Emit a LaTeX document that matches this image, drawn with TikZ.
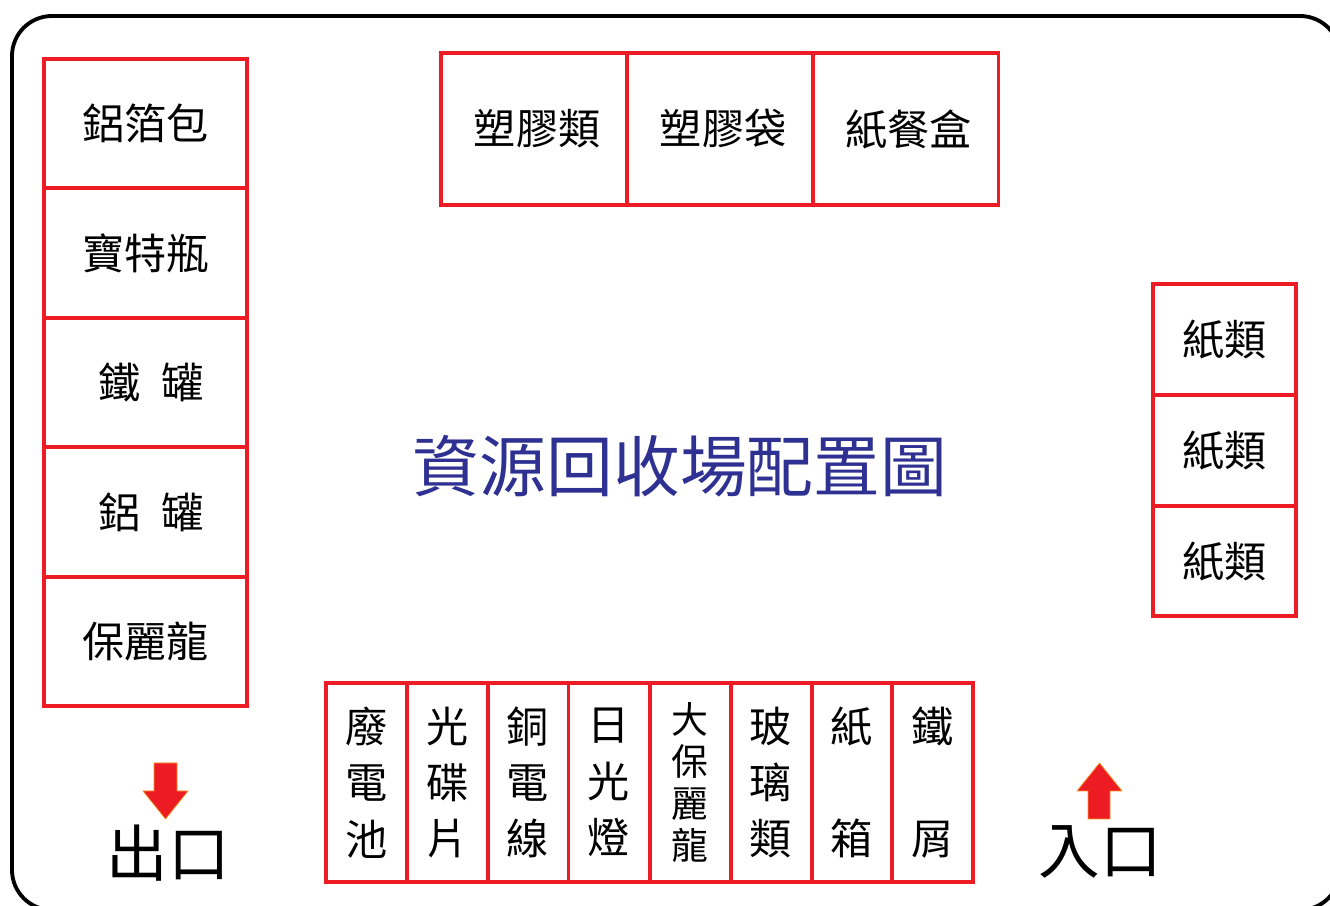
\documentclass[tikz,border=0pt]{standalone}
\usepackage{fontspec}
\newfontfamily\cjk{Noto Sans CJK TC}
\usetikzlibrary{positioning}
\definecolor{binred}{RGB}{237, 28, 36}
\definecolor{titleblue}{RGB}{46, 49, 146}
\definecolor{edgeorange}{RGB}{247, 148, 29}

\begin{document}
\begin{tikzpicture}[
    bin/.style={rectangle, draw=binred, line width=2.2pt, outer sep=0pt, inner sep=0pt,
                align=center, font=\cjk\fontsize{24}{32}\selectfont},
    sidebin/.style={bin, minimum width=4.06cm, minimum height=2.588cm},
    topbin/.style={bin, minimum width=3.72cm, minimum height=3.04cm},
    paperbin/.style={bin, minimum width=2.86cm, minimum height=2.21cm},
    smallbin/.style={bin, minimum width=1.6175cm, minimum height=3.98cm},
    door/.style={inner sep=0pt, font=\cjk\fontsize{35}{40}\selectfont},
    doorarrow/.style={fill=binred, draw=edgeorange, line width=0.4pt}]

    % Page and frame
    \useasboundingbox (0, 0) rectangle (26.6, 18.12);
    \clip (0, 0) rectangle (26.6, 18.12);
    \draw[line width=2.2pt, rounded corners=0.8cm] (0.24, -0.08) rectangle (26.8, 17.8);

    % Title
    \node[text=titleblue, font=\cjk\fontsize{38}{40}\selectfont] (title) at (13.6, 8.8) {資源回收場配置圖};

    % Left column
    \node[sidebin] (foil) at (2.91, 15.65) {鋁箔包};
    \node[sidebin] (pet) at (2.91, 13.06) {寶特瓶};
    \node[sidebin] (ironcan) at (2.91, 10.47) {\hspace*{0.25em}鐵\hspace{0.5em}罐};
    \node[sidebin] (alucan) at (2.91, 7.88) {\hspace*{0.25em}鋁\hspace{0.5em}罐};
    \node[sidebin] (foam) at (2.91, 5.29) {保麗龍};

    % Top row
    \node[topbin] (plastic) at (10.68, 15.54) {\hspace*{0.15em}塑膠類};
    \node[topbin] (bags) at (14.40, 15.54) {\hspace*{0.15em}塑膠袋};
    \node[topbin] (boxes) at (18.11, 15.54) {\hspace*{0.15em}紙餐盒};

    % Right column
    \node[paperbin] (paper1) at (24.49, 11.33) {紙類};
    \node[paperbin] (paper2) at (24.49, 9.11) {紙類};
    \node[paperbin] (paper3) at (24.49, 6.90) {紙類};

    % Bottom row
    \node[smallbin] (battery) at (7.33, 2.47) {廢\\電\\池};
    \node[smallbin] (disc) at (8.95, 2.47) {光\\碟\\片};
    \node[smallbin] (wire) at (10.56, 2.47) {銅\\電\\線};
    \node[smallbin] (lamp) at (12.18, 2.47) {日\\光\\燈};
    \node[smallbin, font=\cjk\fontsize{21}{23.8}\selectfont] (bigfoam) at (13.80, 2.47) {大\\保\\麗\\龍};
    \node[smallbin] (glass) at (15.42, 2.47) {玻\\璃\\類};
    \node[smallbin] (carton) at (17.04, 2.47) {紙\\~\\箱};
    \node[smallbin] (scrap) at (18.65, 2.47) {鐵\\~\\屑};

    % Exit
    \filldraw[doorarrow] (3.08, 2.86) -- (3.54, 2.86) -- (3.54, 2.30) -- (3.76, 2.30)
        -- (3.31, 1.74) -- (2.86, 2.30) -- (3.08, 2.30) -- cycle;
    \node[door] (exit) at (3.36, 1.06) {出口};

    % Entrance
    \filldraw[doorarrow] (21.76, 1.74) -- (22.20, 1.74) -- (22.20, 2.30) -- (22.44, 2.30)
        -- (21.99, 2.86) -- (21.54, 2.30) -- (21.76, 2.30) -- cycle;
    \node[door] (entrance) at (22.00, 1.08) {入口};
\end{tikzpicture}
\end{document}
